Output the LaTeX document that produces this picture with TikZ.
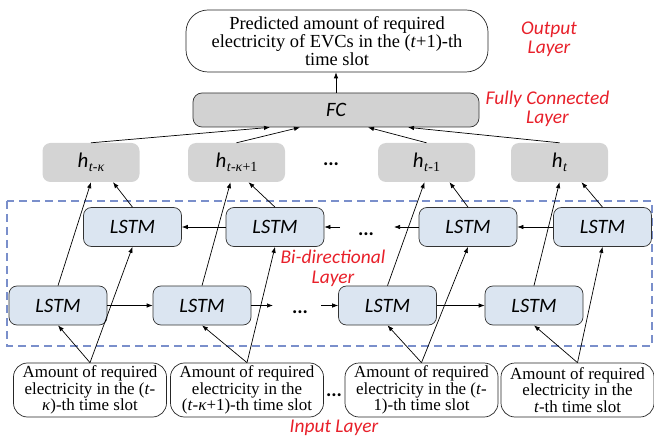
\documentclass[tikz,border=0pt]{standalone}
\usepackage{fontspec}
\setmainfont{Liberation Serif}
\newfontfamily\calfam{Carlito}
\usetikzlibrary{arrows.meta}

\definecolor{lstmblue}{RGB}{219,229,241}
\definecolor{hgrey}{RGB}{212,212,212}
\definecolor{fcgrey}{RGB}{210,210,210}
\definecolor{framecol}{RGB}{122,143,203}
\definecolor{labred}{RGB}{232,32,42}

% label of a hidden state: italic h with a serif subscript
\newcommand\hlab[1]{{\calfam\itshape h}\kern0.5bp\raisebox{-4.5bp}{\fontsize{14}{14}\selectfont\rmfamily #1}}

\tikzset{
  box/.style={inner sep=0pt, align=center},
  lstmbox/.style={box, draw=black!80, line width=0.7bp, fill=lstmblue, rounded corners=8bp,
    minimum width=98bp, minimum height=39bp, font=\calfam\itshape\fontsize{20.5}{22}\selectfont},
  hbox/.style={box, fill=hgrey, rounded corners=8bp, minimum width=97bp, minimum height=39bp,
    font=\fontsize{21}{22}\selectfont},
  fcbox/.style={box, draw=black!80, line width=0.7bp, fill=fcgrey, rounded corners=9bp,
    minimum width=286bp, minimum height=34bp, font=\calfam\itshape\fontsize{20.5}{22}\selectfont},
  inbox/.style={box, draw=black!85, line width=0.7bp, fill=white, rounded corners=14bp,
    minimum width=153bp, minimum height=54bp, font=\fontsize{17}{16.5}\selectfont},
  outbox/.style={box, draw=black!85, line width=0.7bp, fill=white, rounded corners=22bp,
    minimum width=302bp, minimum height=62bp, font=\fontsize{18.5}{18}\selectfont},
  layerlab/.style={box, text=labred, font=\calfam\itshape\fontsize{19.5}{19.5}\selectfont},
  dotsnode/.style={inner sep=0pt, anchor=base, font=\calfam\bfseries\fontsize{20}{20}\selectfont},
  arr/.style={-{Latex[length=6bp,width=4.5bp]}, line width=0.7bp, black},
}

\begin{document}
\begin{tikzpicture}[x=1bp, y=-1bp]
\useasboundingbox (0,0) rectangle (654,441);

% bi-directional layer frame
\draw[framecol, line width=1.2bp, dash pattern=on 8bp off 5bp] (7,201) rectangle (652,346);

% output and fully connected layers
\node[outbox] (out) at (337,41) {Predicted amount of required\\electricity of EVCs in the (\textit{t}+1)-th\\time slot};
\node[fcbox] (fc) at (336,110) {FC};

% hidden states
\node[hbox] (h1) at (91,162.5)   {\hlab{\textit{t}-\textit{κ}}};
\node[hbox] (h2) at (236.5,162.5){\hlab{\textit{t}-\textit{κ}+1}};
\node[hbox] (h3) at (426.5,162.5){\hlab{\textit{t}-1}};
\node[hbox] (h4) at (559.5,162.5){\hlab{\textit{t}}};
\node[dotsnode] (hd) at (331,166) {...};

% backward LSTM row
\node[lstmbox] (u1) at (132.5,227) {LSTM};
\node[lstmbox] (u2) at (275,227)   {LSTM};
\node[lstmbox] (u3) at (468,227)   {LSTM};
\node[lstmbox] (u4) at (602.5,227) {LSTM};
\node[dotsnode] (ud) at (366,236) {...};

% forward LSTM row
\node[lstmbox] (l1) at (58,305.5)   {LSTM};
\node[lstmbox] (l2) at (202,305.5)  {LSTM};
\node[lstmbox] (l3) at (387.5,305.5){LSTM};
\node[lstmbox] (l4) at (534,305.5)  {LSTM};
\node[dotsnode] (ld) at (300,314) {...};

% inputs
\node[inbox] (in1) at (90,390)    {Amount of required\\electricity in the (\textit{t}-\\\textit{κ})-th time slot};
\node[inbox] (in2) at (247,390)   {Amount of required\\electricity in the\\(\textit{t}-\textit{κ}+1)-th time slot};
\node[inbox] (in3) at (421.5,390) {Amount of required\\electricity in the (\textit{t}-\\1)-th time slot};
\node[inbox] (in4) at (577.5,390) {Amount of required\\electricity in the\\\textit{t}-th time slot};
\node[dotsnode] (id) at (334,396) {...};

% layer captions
\node[layerlab] (lo) at (549,39)   {Output\\Layer};
\node[layerlab] (lf) at (547.5,109){Fully Connected\\Layer};
\node[layerlab] (lb) at (333,268.5){Bi-directional\\Layer};
\node[layerlab] (li) at (334,428)  {Input Layer};

% free ends of the arrows next to the dots
\coordinate (ua) at (340,227);
\coordinate (ub) at (394,227);
\coordinate (la) at (273,305.5);
\coordinate (lb2) at (321,305.5);

% FC to output
\draw[arr] (fc.north) -- (fc.north |- out.south);

% hidden states to FC
\draw[arr] (h1.north) -- ([xshift=-66bp]fc.south);
\draw[arr] (h2.north) -- ([xshift=-36bp]fc.south);
\draw[arr] (h3.north) -- ([xshift=32bp]fc.south);
\draw[arr] (h4.north) -- ([xshift=72bp]fc.south);

% backward LSTMs to hidden states
\draw[arr] (u1.north) -- ([xshift=22bp]h1.south);
\draw[arr] (u2.north) -- ([xshift=12bp]h2.south);
\draw[arr] (u3.north) -- ([xshift=23bp]h3.south);
\draw[arr] (u4.north) -- ([xshift=22bp]h4.south);

% forward LSTMs to hidden states
\draw[arr] (l1.north) -- (h1.south);
\draw[arr] (l2.north) -- ([xshift=-6bp]h2.south);
\draw[arr] (l3.north) -- ([xshift=-2bp]h3.south);
\draw[arr] (l4.north) -- (h4.south);

% backward chain
\draw[arr] (u2.west) -- (u1.east);
\draw[arr] (ua) -- (u2.east);
\draw[arr] (u3.west) -- (ub);
\draw[arr] (u4.west) -- (u3.east);

% forward chain
\draw[arr] (l1.east) -- (l2.west);
\draw[arr] (l2.east) -- (la);
\draw[arr] (lb2) -- (l3.west);
\draw[arr] (l3.east) -- (l4.west);

% inputs to both directions
\foreach \i in {1,2,3,4} {
  \draw[arr] (in\i.north) -- (l\i.south);
  \draw[arr] (in\i.north) -- (u\i.south);
}
\end{tikzpicture}
\end{document}
